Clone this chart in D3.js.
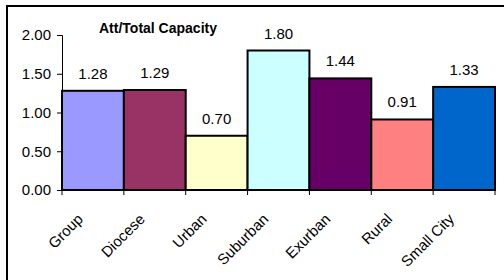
<!DOCTYPE html>
<html>
<head>
<meta charset="utf-8">
<script src="https://cdn.jsdelivr.net/npm/d3@7"></script>
<style>
  body { margin: 0; background: #fff; }
  svg text { font-family: Arial, "Liberation Sans", sans-serif; fill: #000; }
</style>
</head>
<body>
<div id="chart"></div>
<script>
var categories = ['Group', 'Diocese', 'Urban', 'Suburban', 'Exurban', 'Rural', 'Small City'];
var values = [1.28, 1.29, 0.70, 1.80, 1.44, 0.91, 1.33];
var colors = ['#9999FF', '#993366', '#FFFFCC', '#CCFFFF', '#660066', '#FF8080', '#0066CC'];
var yTicks = [0, 0.5, 1, 1.5, 2];
var title = 'Att/Total Capacity';

var width = 504, height = 280;
var svg = d3.select('#chart').append('svg')
  .attr('width', width).attr('height', height);

// outer frame (only left and top edges show in the crop)
svg.append('path')
  .attr('d', 'M7,' + height + 'V6H' + width)
  .attr('fill', 'none').attr('stroke', '#000').attr('stroke-width', 2);

var x = d3.scaleBand().domain(categories).range([62, 495]).padding(0);
var y = d3.scaleLinear().domain([0, 2]).range([190, 35]);

// bars
svg.selectAll('rect.bar').data(values).enter().append('rect')
  .attr('class', 'bar')
  .attr('x', function(d, i) { return x(categories[i]); })
  .attr('y', function(d) { return y(d); })
  .attr('width', x.bandwidth())
  .attr('height', function(d) { return y(0) - y(d); })
  .attr('fill', function(d, i) { return colors[i]; })
  .attr('stroke', '#000').attr('stroke-width', 2);

// value labels
svg.selectAll('text.val').data(values).enter().append('text')
  .attr('class', 'val')
  .attr('x', function(d, i) { return x(categories[i]) + x.bandwidth() / 2; })
  .attr('y', function(d) { return y(d) - 12; })
  .attr('text-anchor', 'middle')
  .style('font-size', '15px')
  .text(function(d) { return d.toFixed(2); });

// y axis
var yAxis = svg.append('g').attr('transform', 'translate(62,0)')
  .call(d3.axisLeft(y).tickValues(yTicks).tickSize(5).tickPadding(6)
    .tickFormat(function(d) { return d.toFixed(2); }));
yAxis.selectAll('path, line').attr('stroke', '#000').attr('stroke-width', 1);
yAxis.select('.domain').attr('d', 'M-5,35.5H0.5V190.5H-5');
yAxis.selectAll('text').style('font-size', '15px')
  .style('font-family', 'Arial, "Liberation Sans", sans-serif');

// x axis: ticks at category boundaries
var xAxis = svg.append('g').attr('transform', 'translate(0,190)');
xAxis.append('line').attr('x1', 62).attr('x2', 495)
  .attr('stroke', '#000').attr('stroke-width', 2);
var bounds = categories.map(function(c) { return x(c); }).concat([x.range()[1]]);
xAxis.selectAll('line.tick').data(bounds).enter().append('line')
  .attr('class', 'tick')
  .attr('x1', function(d) { return d; }).attr('x2', function(d) { return d; })
  .attr('y1', 0).attr('y2', 5)
  .attr('stroke', '#000').attr('stroke-width', 1);

xAxis.selectAll('text.cat').data(categories).enter().append('text')
  .attr('class', 'cat')
  .attr('transform', function(d) {
    return 'translate(' + (x(d) + x.bandwidth() / 2 - 9) + ',30) rotate(-45)';
  })
  .attr('text-anchor', 'end')
  .style('font-size', '15px')
  .text(function(d) { return d; });

// title
svg.append('text')
  .attr('x', 158).attr('y', 33)
  .attr('text-anchor', 'middle')
  .style('font-size', '14px').style('font-weight', 'bold')
  .text(title);
</script>
</body>
</html>
